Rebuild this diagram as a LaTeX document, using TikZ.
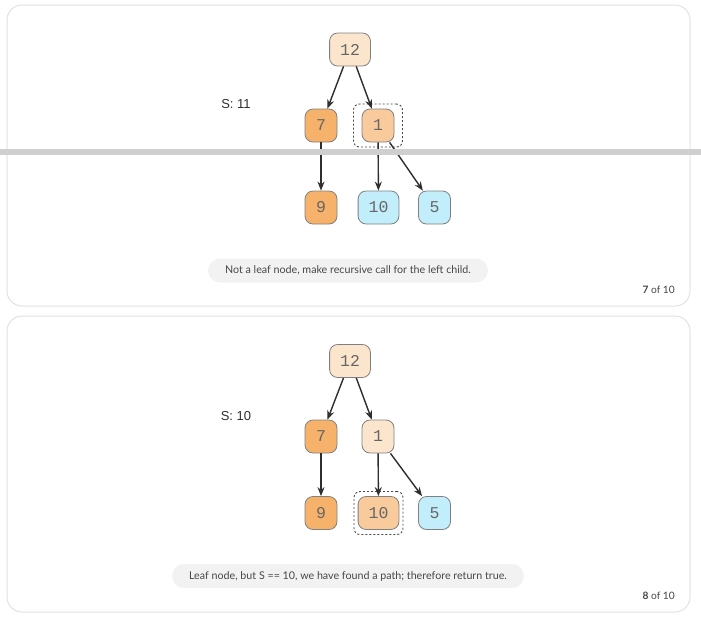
\documentclass[tikz,border=0pt]{standalone}
\usepackage{fontspec}
\usetikzlibrary{fit,arrows.meta}
\newfontfamily\numfont{Liberation Mono}
\newfontfamily\capfont{Lato}
\newfontfamily\lblfont{Liberation Sans}
\definecolor{peach}{HTML}{FCE5CD}
\definecolor{deeporange}{HTML}{F6B26B}
\definecolor{midorange}{HTML}{F9CB9C}
\definecolor{skyblue}{HTML}{C2EDFB}
\definecolor{valborder}{HTML}{808080}
\definecolor{valtext}{HTML}{666666}
\definecolor{focusgray}{HTML}{4A4A4A}
\definecolor{arrowgray}{HTML}{2E2E2E}
\definecolor{panelgray}{HTML}{E2E2E2}
\definecolor{pillgray}{HTML}{F2F2F2}
\definecolor{captext}{HTML}{474747}
\definecolor{barcolor}{HTML}{CFCFCF}
\tikzstyle{val} = [draw=valborder, line width=0.8pt, rounded corners=8pt, minimum width=32pt, minimum height=33pt, inner xsep=10.5pt, inner ysep=0pt, text=valtext, font={\numfont\fontsize{16.5}{16.5}\selectfont}]
\tikzstyle{pale} = [fill=peach]
\tikzstyle{deep} = [fill=deeporange]
\tikzstyle{cur} = [fill=midorange]
\tikzstyle{leaf} = [fill=skyblue]
\tikzstyle{focus} = [draw=focusgray, line width=0.9pt, dash pattern=on 2pt off 2pt, rounded corners=6pt, inner sep=0pt, minimum width=49pt, minimum height=43pt]
\tikzstyle{link} = [draw=arrowgray, line width=1.4pt, -{Stealth[length=9pt,width=7pt]}]
\tikzstyle{panel} = [draw=panelgray, line width=1pt, rounded corners=15pt]
\tikzstyle{sumlbl} = [text=arrowgray, font={\lblfont\fontsize{13}{13}\selectfont}]
\tikzstyle{caption} = [fill=pillgray, rounded corners=12pt, minimum height=24pt, inner xsep=17pt, text=captext, font={\capfont\fontsize{10.7}{10.7}\selectfont}]
\tikzstyle{counter} = [anchor=east, inner sep=0pt, text=captext, font={\capfont\fontsize{10.2}{10.2}\selectfont}]

\begin{document}
\begin{tikzpicture}[x=1pt,y=-1pt]
  \useasboundingbox[fill=white] (0,0) rectangle (701,619);
  % step 7
  \draw[panel] (7,5) rectangle (690,306);
  \node[sumlbl](s7) at (236,104){S: 11};
  \node[val,pale](a12) at (350,49.5){12};
  \node[val,deep](a7) at (321,125.5){7};
  \node[val,cur](a1) at (378,125.5){1};
  \node[val,deep](a9) at (321,207.5){9};
  \node[val,leaf](a10) at (378.5,207.5){10};
  \node[val,leaf](a5) at (434.5,207.5){5};
  \node[focus,fit=(a1)] {};
  \draw[link](a12)--(a7);
  \draw[link](a12)--(a1);
  \draw[link](a7)--(a9);
  \draw[link](a1)--(a10);
  \draw[link](a1)--(a5);
  \node[caption](c7) at (348,270.5){Not a leaf node, make recursive call for the left child.};
  \node[counter](k7) at (675,290){\textbf{7} of 10};
  % step 8
  \draw[panel] (7,316) rectangle (690,612);
  \node[sumlbl](s8) at (236,416){S: 10};
  \node[val,pale](b12) at (350,361){12};
  \node[val,deep](b7) at (321,436.5){7};
  \node[val,pale](b1) at (378,436.5){1};
  \node[val,deep](b9) at (321,513){9};
  \node[val,cur](b10) at (378.5,513){10};
  \node[val,leaf](b5) at (434.5,513){5};
  \node[focus,fit=(b10)] {};
  \draw[link](b12)--(b7);
  \draw[link](b12)--(b1);
  \draw[link](b7)--(b9);
  \draw[link](b1)--(b10);
  \draw[link](b1)--(b5);
  \node[caption](c8) at (348,576){Leaf node, but S == 10, we have found a path; therefore return true.};
  \node[counter](k8) at (675,596){\textbf{8} of 10};
  % divider strip over the first step
  \fill[barcolor] (0,149) rectangle (701,155);
\end{tikzpicture}
\end{document}
